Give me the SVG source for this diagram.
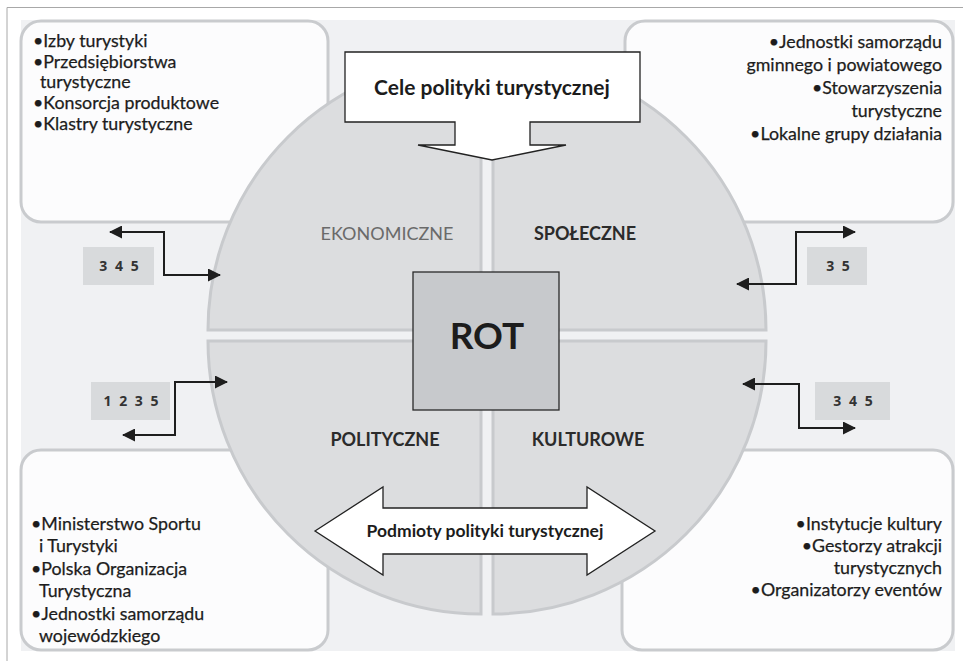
<svg xmlns="http://www.w3.org/2000/svg" width="963" height="661" viewBox="0 0 963 661">
<defs>
<style>
.frame{stroke:#a8a8a8;stroke-width:1;fill:none}
.bg{fill:#f0f1f3}
.box{fill:#fcfcfd;stroke:#c9cbce;stroke-width:3}
.q{fill:#dcdddf;stroke:#c8cacd;stroke-width:3}
.t{font-family:Lato,"Open Sans",sans-serif;font-size:17.8px;fill:#1c1c1c;stroke:#1c1c1c;stroke-width:0.25}
.r{text-anchor:end}
.lab{font-family:Lato,"Open Sans",sans-serif;font-size:18px;fill:#2b2b2b;font-weight:bold;text-anchor:middle}
.labg{font-family:Lato,"Open Sans",sans-serif;font-size:18px;fill:#6a6a6a;text-anchor:middle}
.num{fill:#d8dadc}
.numt{font-family:"Open Sans",sans-serif;font-weight:bold;font-size:14px;letter-spacing:2px;text-anchor:middle;fill:#333}
.conn{fill:none;stroke:#1e1e1e;stroke-width:2}
.arr{fill:#fff;stroke:#222;stroke-width:1.3}
.big{font-family:Lato,"Open Sans",sans-serif;font-weight:bold;fill:#1c1c1c;text-anchor:middle}
</style>
<marker id="ah" viewBox="0 0 13 13" refX="12" refY="6.5" markerWidth="13" markerHeight="13" markerUnits="userSpaceOnUse" orient="auto-start-reverse">
<path d="M0,0 L13,6.5 L0,13 Z" fill="#1e1e1e"/>
</marker>
</defs>
<path class="frame" d="M7,661 V7.5 H963"/>
<rect class="bg" x="21" y="20" width="934" height="631"/>

<g id="box-ekonomiczne">
<rect class="box" x="21" y="21" width="307" height="201" rx="20"/>
<text class="t" x="33" y="47">•Izby turystyki</text>
<text class="t" x="33" y="67.5">•Przedsiębiorstwa</text>
<text class="t" x="40" y="88">turystyczne</text>
<text class="t" x="33" y="109">•Konsorcja produktowe</text>
<text class="t" x="33" y="130">•Klastry turystyczne</text>
</g>
<g id="box-spoleczne">
<rect class="box" x="625" y="21" width="328" height="201" rx="20"/>
<text class="t r" x="942" y="48">•Jednostki samorządu</text>
<text class="t r" x="942" y="71">gminnego i powiatowego</text>
<text class="t r" x="942" y="94">•Stowarzyszenia</text>
<text class="t r" x="942" y="117">turystyczne</text>
<text class="t r" x="942" y="140">•Lokalne grupy działania</text>
</g>
<g id="box-polityczne">
<rect class="box" x="21" y="450" width="307" height="200" rx="20"/>
<text class="t" x="31" y="530">•Ministerstwo Sportu</text>
<text class="t" x="39" y="552">i Turystyki</text>
<text class="t" x="31" y="574.5">•Polska Organizacja</text>
<text class="t" x="39" y="597">Turystyczna</text>
<text class="t" x="31" y="619.5">•Jednostki samorządu</text>
<text class="t" x="39" y="642">wojewódzkiego</text>
</g>
<g id="box-kulturowe">
<rect class="box" x="622" y="450" width="331" height="200" rx="20"/>
<text class="t r" x="942" y="530">•Instytucje kultury</text>
<text class="t r" x="942" y="552">•Gestorzy atrakcji</text>
<text class="t r" x="942" y="574">turystycznych</text>
<text class="t r" x="942" y="596">•Organizatorzy eventów</text>
</g>

<g id="quadrant-ekonomiczne">
<path class="q" d="M481,330 H208 A273,273 0 0 1 481,57 Z"/>
<text class="labg" x="387" y="240">EKONOMICZNE</text>
</g>
<g id="quadrant-spoleczne">
<path class="q" d="M493,330 V57 A273,273 0 0 1 766,330 Z"/>
<text class="lab" x="585" y="240">SPOŁECZNE</text>
</g>
<g id="quadrant-polityczne">
<path class="q" d="M481,341 V614 A273,273 0 0 1 208,341 Z"/>
<text class="lab" x="385" y="446">POLITYCZNE</text>
</g>
<g id="quadrant-kulturowe">
<path class="q" d="M493,341 H766 A273,273 0 0 1 493,614 Z"/>
<text class="lab" x="588" y="446">KULTUROWE</text>
</g>

<g id="num-345-left">
<rect class="num" x="83" y="247" width="71" height="38"/>
<text class="numt" x="120" y="271">3 4 5</text>
</g>
<g id="num-1235">
<rect class="num" x="91" y="382" width="79" height="38"/>
<text class="numt" x="132" y="406">1 2 3 5</text>
</g>
<g id="num-35">
<rect class="num" x="807" y="247" width="60" height="38"/>
<text class="numt" x="839" y="271">3 5</text>
</g>
<g id="num-345-right">
<rect class="num" x="815" y="382" width="75" height="38"/>
<text class="numt" x="854" y="406">3 4 5</text>
</g>

<g id="connectors">
<path class="conn" d="M110,232 H164 V275 H220" marker-start="url(#ah)" marker-end="url(#ah)"/>
<path class="conn" d="M227,382 H175 V435 H123" marker-start="url(#ah)" marker-end="url(#ah)"/>
<path class="conn" d="M855,232 H796 V284 H737" marker-start="url(#ah)" marker-end="url(#ah)"/>
<path class="conn" d="M743,384 H799 V428 H855" marker-start="url(#ah)" marker-end="url(#ah)"/>
</g>

<g id="rot">
<rect x="413" y="272" width="146" height="138" fill="#c7c9cc" stroke="#2a2a2a" stroke-width="1.3"/>
<text class="big" x="487" y="349" font-size="37">ROT</text>
</g>

<g id="cele">
<path class="arr" d="M345,52 H640 V122 H530 V145 H566 L492,160 L418,145 H455 V122 H345 Z"/>
<text class="big" x="492" y="95" font-size="21">Cele polityki turystycznej</text>
</g>

<g id="podmioty">
<path class="arr" d="M315,531 L383,487 V508 H587 V487 L655,531 L587,575 V554 H383 V575 Z"/>
<text class="big" x="485" y="537" font-size="17.5">Podmioty polityki turystycznej</text>
</g>
</svg>
